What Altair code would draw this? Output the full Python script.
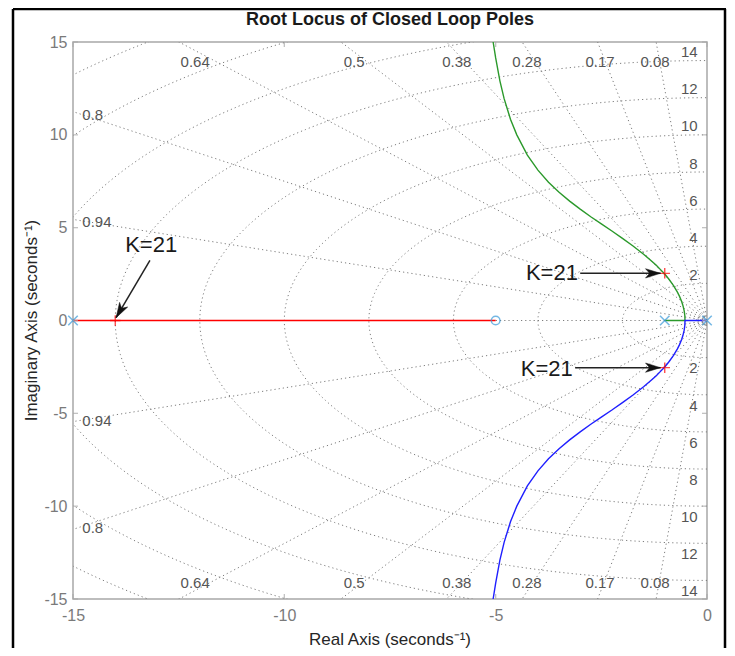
import altair as alt
import numpy as np
import pandas as pd

# ---------------- data ----------------
pole_re = [-15.0, -1.0, 0.0]
pole_im = [0.0, 0.0, 0.0]
zero_re = [-5.0]
zero_im = [0.0]

# K = 21 closed-loop poles
k_re = [-14.0, -1.0, -1.0]
k_im = [0.0, 2.54, -2.54]

# real-axis branch (red)
red_re = [-15.0, -5.0]
red_im = [0.0, 0.0]

# upper complex branch (green), starts at pole -1
green_re = [-1.0, -0.52, -0.525, -0.54, -0.57, -0.6, -0.65, -0.7, -0.8, -0.9, -1.0, -1.1, -1.2, -1.3,
            -1.5, -1.75, -2.0, -2.25, -2.5, -2.75, -3.0, -3.25, -3.5, -3.75, -4.0, -4.25, -4.5,
            -4.65, -4.8, -4.9, -5.0, -5.06]
green_im = [0.0, 0.0, 0.27, 0.52, 0.81, 1.02, 1.3, 1.53, 1.91, 2.22, 2.5, 2.74, 2.97, 3.18,
            3.57, 4.01, 4.42, 4.82, 5.2, 5.59, 6.0, 6.43, 6.91, 7.45, 8.1, 8.91, 10.0,
            10.84, 11.95, 12.91, 14.14, 15.0]

# lower complex branch (blue), starts at pole 0
blue_re = [0.0, -0.52, -0.525, -0.54, -0.57, -0.6, -0.65, -0.7, -0.8, -0.9, -1.0, -1.1, -1.2, -1.3,
           -1.5, -1.75, -2.0, -2.25, -2.5, -2.75, -3.0, -3.25, -3.5, -3.75, -4.0, -4.25, -4.5,
           -4.65, -4.8, -4.9, -5.0, -5.06]
blue_im = [0.0, 0.0, -0.27, -0.52, -0.81, -1.02, -1.3, -1.53, -1.91, -2.22, -2.5, -2.74, -2.97, -3.18,
           -3.57, -4.01, -4.42, -4.82, -5.2, -5.59, -6.0, -6.43, -6.91, -7.45, -8.1, -8.91, -10.0,
           -10.84, -11.95, -12.91, -14.14, -15.0]

# s-plane grid
wn_values = [2, 4, 6, 8, 10, 12, 14, 16, 18, 20]
ring_values = [0.08, 0.16, 0.25]
zeta_values = [0.08, 0.17, 0.28, 0.38, 0.5, 0.64, 0.8, 0.94]

# grid labels
zeta_top_labels = ["0.64", "0.5", "0.38", "0.28", "0.17", "0.08"]
zeta_top_x = [-12.11, -8.35, -5.92, -4.26, -2.53, -1.23]
zeta_side_labels = ["0.8", "0.94"]
zeta_side_y = [11.05, 5.3]
wn_labels = [2, 4, 6, 8, 10, 12, 14]

# annotations
ann_text = ["K=21", "K=21", "K=21"]
ann_tx = [-13.15, -3.67, -3.79]
ann_ty = [4.05, 2.54, -2.59]
arrow_x0 = [-13.18, -3.0, -3.12]
arrow_y0 = [3.24, 2.54, -2.54]
arrow_x1 = [-13.98, -1.1, -1.1]
arrow_y1 = [0.15, 2.54, -2.54]
arrow_angle = [120, 0, 0]

x_ticks = [-15, -10, -5, 0]
y_ticks = [-15, -10, -5, 0, 5, 10, 15]

title_text = "Root Locus of Closed Loop Poles"
xlabel_text = "Real Axis (seconds\u207b\u00b9)"
ylabel_text = "Imaginary Axis (seconds\u207b\u00b9)"

# ---------------- build tables ----------------
W, H = 634, 557
FONT = "Liberation Sans"

rows = []
gid = 0
phi = np.linspace(-np.pi / 2, np.pi / 2, 241)
for w in wn_values + ring_values:
    for i, p in enumerate(phi):
        rows.append(dict(gid=gid, o=i, x=-w * np.cos(p), y=w * np.sin(p)))
    gid += 1
R = 30.0
for z in zeta_values:
    s = np.sqrt(1 - z * z)
    for sign in (1, -1):
        rows.append(dict(gid=gid, o=0, x=0.0, y=0.0))
        rows.append(dict(gid=gid, o=1, x=-R * z, y=sign * R * s))
        gid += 1
rows.append(dict(gid=gid, o=0, x=0.0, y=0.0))
rows.append(dict(gid=gid, o=1, x=-R, y=0.0))
grid_df = pd.DataFrame(rows)

branches = []
for name, xs, ys in (("red", red_re, red_im), ("green", green_re, green_im), ("blue", blue_re, blue_im)):
    for i, (a, b) in enumerate(zip(xs, ys)):
        branches.append(dict(branch=name, o=i, x=a, y=b))
branch_df = pd.DataFrame(branches)

lab_c, lab_l, lab_r = [], [], []
for t, xv in zip(zeta_top_labels, zeta_top_x):
    lab_c.append(dict(x=xv, y=13.92, t=t))
    lab_c.append(dict(x=xv, y=-14.14, t=t))
for t, yv in zip(zeta_side_labels, zeta_side_y):
    lab_l.append(dict(x=-14.78, y=yv, t=t))
    lab_l.append(dict(x=-14.78, y=-yv - 0.1, t=t))
for w in wn_labels:
    lab_r.append(dict(x=-0.22, y=w + 0.45, t=str(w)))
    lab_r.append(dict(x=-0.22, y=-(w + 0.58), t=str(w)))

pole_df = pd.DataFrame(dict(x=pole_re, y=pole_im))
zero_df = pd.DataFrame(dict(x=zero_re, y=zero_im))
k_df = pd.DataFrame(dict(x=k_re, y=k_im))
ann_df = pd.DataFrame(dict(t=ann_text, x=ann_tx, y=ann_ty))
arrow_df = pd.DataFrame(dict(x0=arrow_x0, y0=arrow_y0, x1=arrow_x1, y1=arrow_y1, ang=arrow_angle))
xt_df = pd.DataFrame(dict(v=x_ticks))
yt_df = pd.DataFrame(dict(v=y_ticks))
one = pd.DataFrame(dict(t=[title_text]))

hyphen_labels = "datum.value < 0 ? '-' + abs(datum.value) : '' + datum.value"
xscale = alt.Scale(domain=[-15, 0], nice=False, zero=False)
yscale = alt.Scale(domain=[-15, 15], nice=False, zero=False)
xaxis = alt.Axis(values=x_ticks, ticks=False, domain=False, grid=False, labelFontSize=16,
                 labelColor="#7a7a7a", labelPadding=8, labelFlush=False, labelOverlap=False,
                 title=None, labelFont=FONT, labelExpr=hyphen_labels)
yaxis = alt.Axis(values=y_ticks, ticks=False, domain=False, grid=False, labelFontSize=16,
                 labelColor="#7a7a7a", labelPadding=6, labelFlush=False, labelOverlap=False,
                 title=None, labelFont=FONT, labelExpr=hyphen_labels)


def X(f):
    return alt.X(f, type="quantitative", scale=xscale, axis=xaxis)


def Y(f):
    return alt.Y(f, type="quantitative", scale=yscale, axis=yaxis)


grid = alt.Chart(grid_df).mark_line(clip=True, color="#7d7d7d", strokeWidth=1,
                                    strokeDash=[1.2, 3]).encode(
    x=X("x"), y=Y("y"), detail="gid:N", order="o:Q")

lines = alt.Chart(branch_df).mark_line(clip=True, strokeWidth=1.4).encode(
    x=X("x"), y=Y("y"), detail="branch:N", order="o:Q",
    color=alt.Color("branch:N", scale=alt.Scale(domain=["red", "green", "blue"],
                                                range=["#ff0000", "#2b992b", "#1f1fff"]),
                    legend=None))

xs_shape = "M-1,-1L1,1M-1,1L1,-1"
plus_shape = "M0,-1L0,1M-1,0L1,0"
head_shape = "M0,0L-2,-0.62L-1.45,0L-2,0.62Z"

poles = alt.Chart(pole_df).mark_point(shape=xs_shape, size=90, stroke="#3a9ad9",
                                      strokeWidth=1.5, filled=False).encode(x=X("x"), y=Y("y"))
zeros = alt.Chart(zero_df).mark_point(shape="circle", size=75, stroke="#3a9ad9",
                                      strokeWidth=1.5, filled=False).encode(x=X("x"), y=Y("y"))
kpts = alt.Chart(k_df).mark_point(shape=plus_shape, size=110, stroke="#ff0000",
                                  strokeWidth=1.4, filled=False).encode(x=X("x"), y=Y("y"))

shafts = alt.Chart(arrow_df).mark_rule(color="#222222", strokeWidth=1.5).encode(
    x=X("x0"), y=Y("y0"), x2="x1", y2="y1")
heads = alt.Chart(arrow_df).mark_point(shape=head_shape, size=225, filled=True,
                                       fill="#111111", stroke="#111111", strokeWidth=0.5,
                                       opacity=1).encode(
    x=X("x1"), y=Y("y1"), angle=alt.Angle("ang:Q", scale=None))
ann = alt.Chart(ann_df).mark_text(fontSize=22, font=FONT, color="#1a1a1a").encode(
    x=X("x"), y=Y("y"), text="t:N")


def labels(rows_, align):
    return alt.Chart(pd.DataFrame(rows_)).mark_text(
        fontSize=15, font=FONT, color="#555555", baseline="middle", align=align).encode(
        x=X("x"), y=Y("y"), text="t:N")


labs_c = labels(lab_c, "center")
labs_l = labels(lab_l, "left")
labs_r = labels(lab_r, "right")

tick_col = "#a8a8a8"
tb = alt.Chart(xt_df).mark_tick(orient="vertical", size=5, thickness=1.3, color=tick_col).encode(
    x=X("v"), y=alt.value(H - 2.5))
tt = alt.Chart(xt_df).mark_tick(orient="vertical", size=5, thickness=1.3, color=tick_col).encode(
    x=X("v"), y=alt.value(2.5))
tl = alt.Chart(yt_df).mark_tick(orient="horizontal", size=5, thickness=1.3, color=tick_col).encode(
    y=Y("v"), x=alt.value(2.5))
tr = alt.Chart(yt_df).mark_tick(orient="horizontal", size=5, thickness=1.3, color=tick_col).encode(
    y=Y("v"), x=alt.value(W - 2.5))

title = alt.Chart(one).mark_text(fontSize=18, fontWeight="bold", font=FONT, color="#1a1a1a").encode(
    x=alt.value(W / 2), y=alt.value(-22), text="t:N")
xlab = alt.Chart(pd.DataFrame(dict(t=[xlabel_text]))).mark_text(
    fontSize=17, font=FONT, color="#262626").encode(x=alt.value(W / 2), y=alt.value(H + 41), text="t:N")
ylab = alt.Chart(pd.DataFrame(dict(t=[ylabel_text]))).mark_text(
    fontSize=17, font=FONT, color="#262626", angle=270).encode(x=alt.value(-41), y=alt.value(H / 2), text="t:N")

frame_col = "#000000"
fl = alt.Chart(one).mark_rule(color=frame_col, strokeWidth=2.5).encode(
    x=alt.value(-60), y=alt.value(-33), y2=alt.value(H + 60))
ft = alt.Chart(one).mark_rule(color=frame_col, strokeWidth=2.5).encode(
    x=alt.value(-60), x2=alt.value(W + 19), y=alt.value(-33))
fr = alt.Chart(one).mark_rule(color=frame_col, strokeWidth=2.5).encode(
    x=alt.value(W + 18), y=alt.value(-33), y2=alt.value(H + 60))

chart = alt.layer(
    grid, lines, poles, zeros, kpts, shafts, heads, ann, labs_c, labs_l, labs_r,
    tb, tt, tl, tr, title, xlab, ylab, fl, ft, fr
).properties(
    width=W, height=H,
    autosize=alt.AutoSizeParams(type="none"),
    padding={"left": 65, "top": 34, "right": 20, "bottom": 49},
).configure_view(
    stroke="#a8a8a8", strokeWidth=1.5
)

chart.save("out.html", embed_options={"renderer": "svg", "actions": False})
